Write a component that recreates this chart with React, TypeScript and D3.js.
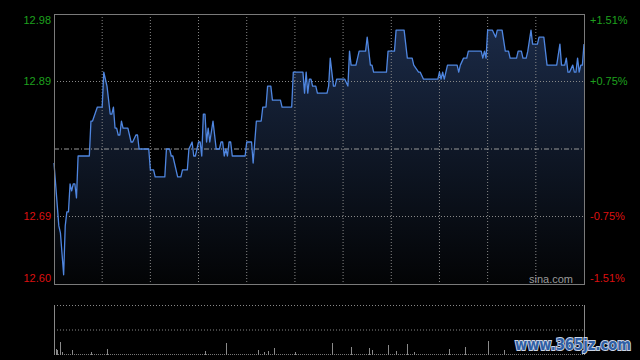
import React from "react";
import * as d3 from "d3";

const prevClose = 12.79;
const pctTicks = [1.51, 0.75, -0.75, -1.51];
const pctLabels = ["+1.51%", "+0.75%", "-0.75%", "-1.51%"];
const sessionMinutes = 330;
const timeGrid = [30, 60, 90, 120, 150, 180, 210, 240, 270, 300];

const times = [
  0, 2, 3, 4, 6, 7, 8, 9, 10, 11, 12, 13, 14, 15, 22, 23, 24, 27, 30, 31, 33, 34, 35, 36, 37, 38, 39, 40, 41, 42, 43, 46, 48, 49, 51, 52, 53, 59, 60, 62, 63, 69, 70, 72, 73, 74, 77, 79, 80, 83, 84,
  86, 87, 88, 90, 91, 92, 93, 94, 95, 96, 97, 99, 101, 103, 104, 105, 106, 107, 108, 109, 110, 111, 119, 120, 123, 124, 126, 129, 130, 132, 133, 135, 136, 141, 142, 148, 149, 155, 156, 157, 158, 159, 160, 161, 163, 164, 166,
  170, 171, 172, 173, 174, 175, 176, 181, 183, 184, 185, 188, 190, 194, 195, 197, 198, 199, 207, 208, 212, 213, 218, 220, 223, 224, 227, 228, 230, 239, 240, 241, 242, 243, 245, 247,
  251, 252, 253, 255, 257, 258, 266, 267, 268, 269, 270, 273, 275, 276, 279, 281, 283, 284, 288, 289, 291, 292, 294, 295, 297, 298, 299, 301, 302, 305, 307, 313, 315, 316, 318, 319, 320, 321, 323, 324, 325, 326, 327, 328, 329, 330,
];
const prices = [
  12.77, 12.71, 12.68, 12.67, 12.61, 12.68, 12.70, 12.70, 12.74, 12.73, 12.74, 12.74, 12.72, 12.78, 12.78, 12.83, 12.83, 12.85, 12.85, 12.90, 12.88, 12.86, 12.84, 12.84, 12.85, 12.82, 12.82, 12.81, 12.81, 12.83, 12.82, 12.82, 12.80, 12.80, 12.81, 12.81, 12.79, 12.79, 12.76, 12.76, 12.75, 12.75, 12.79, 12.79, 12.78, 12.78, 12.75, 12.75, 12.76, 12.76, 12.79,
  12.80, 12.78, 12.78, 12.80, 12.80, 12.78, 12.84, 12.84, 12.80, 12.82, 12.80, 12.83, 12.79, 12.79, 12.80, 12.80, 12.78, 12.79, 12.78, 12.80, 12.80, 12.78, 12.78, 12.80, 12.80, 12.77, 12.83, 12.83, 12.85, 12.85, 12.88, 12.88, 12.86, 12.86, 12.85, 12.85, 12.90, 12.90, 12.87, 12.90, 12.87, 12.89, 12.89, 12.88, 12.88, 12.87, 12.87,
  12.87, 12.88, 12.92, 12.90, 12.88, 12.88, 12.89, 12.89, 12.88, 12.93, 12.91, 12.91, 12.93, 12.93, 12.95, 12.91, 12.91, 12.90, 12.90, 12.93, 12.93, 12.96, 12.96, 12.92, 12.92, 12.91, 12.90, 12.90, 12.89, 12.89, 12.90, 12.89, 12.90, 12.89, 12.91, 12.91,
  12.91, 12.90, 12.91, 12.92, 12.92, 12.93, 12.93, 12.92, 12.93, 12.92, 12.96, 12.96, 12.95, 12.96, 12.96, 12.93, 12.93, 12.92, 12.92, 12.93, 12.93, 12.92, 12.92, 12.93, 12.96, 12.94, 12.94, 12.94, 12.95, 12.95, 12.91, 12.91, 12.94, 12.91, 12.91, 12.92, 12.90, 12.90, 12.91, 12.90, 12.90, 12.92, 12.90, 12.91, 12.91, 12.94,
];

const volTimes = [1, 2, 4, 5, 11, 23, 33, 94, 107, 127, 131, 133, 137, 150, 173, 185, 196, 198, 208, 213, 220, 224, 246, 256, 270, 280];
const volumes = [6, 5, 13, 3, 5, 3, 6, 4, 12, 5, 3, 4, 7, 3, 12, 8, 7, 5, 10, 4, 11, 3, 6, 8, 14, 5];
const volMax = 50;

const L = 54, R = 584, T = 14, B = 284;
const VT = 305, VB = 355;

export default function App() {
  const x = d3.scaleLinear().domain([0, sessionMinutes]).range([L, R]);
  const y = d3
    .scaleLinear()
    .domain([prevClose * (1 - 0.0151), prevClose * (1 + 0.0151)])
    .range([B, T]);
  const yPct = d3.scaleLinear().domain([-1.51, 1.51]).range([B, T]);
  const yv = d3.scaleLinear().domain([0, volMax]).range([VB, VT]);

  const pts = times.map((t, i) => [t, prices[i]] as [number, number]);
  const line = d3
    .line<[number, number]>()
    .x((d) => x(d[0]))
    .y((d) => y(d[1]));
  const area = d3
    .area<[number, number]>()
    .x((d) => x(d[0]))
    .y0(B)
    .y1((d) => y(d[1]));

  const gridPct = [1.51 / 2, -1.51 / 2];
  const labelY = (i: number) => {
    const yy = yPct(i === 0 ? 1.51 : i === 1 ? 1.51 / 2 : i === 2 ? -1.51 / 2 : -1.51);
    if (i === 0) return yy + 6;
    if (i === 3) return yy - 6;
    return yy;
  };
  const font = "'Liberation Sans', Arial, sans-serif";

  return (
    <svg
      width={640}
      height={360}
      style={{ position: "fixed", left: 0, top: 0, background: "#000" }}
    >
      <defs>
        <linearGradient id="fillg" x1="0" y1="0" x2="0" y2="1" gradientUnits="objectBoundingBox">
          <stop offset="0" stopColor="#1a2945" />
          <stop offset="1" stopColor="#030405" />
        </linearGradient>
      </defs>
      <rect x={0} y={0} width={640} height={360} fill="#000" />
      <path d={area(pts) || ""} fill="url(#fillg)" />
      {timeGrid.map((t) => (
        <line key={"vg" + t} x1={x(t)} x2={x(t)} y1={T} y2={B} stroke="#888" strokeWidth={1} strokeDasharray="1,2" />
      ))}
      {gridPct.map((p) => (
        <line key={"hg" + p} x1={L} x2={R} y1={yPct(p)} y2={yPct(p)} stroke="#888" strokeWidth={1} strokeDasharray="1,2" />
      ))}
      <line x1={L} x2={R} y1={yPct(0)} y2={yPct(0)} stroke="#999" strokeWidth={1} strokeDasharray="5,2,1,2" />
      <path d={line(pts) || ""} fill="none" stroke="#4f86e0" strokeWidth={1.3} strokeLinejoin="round" />
      <rect x={L + 0.5} y={T + 0.5} width={R - L} height={B - T} fill="none" stroke="#7a7a7a" strokeWidth={1} />
      {pctTicks.map((p, i) => (
        <text
          key={"ll" + i}
          x={51}
          y={labelY(i)}
          dy="0.35em"
          textAnchor="end"
          fontFamily={font}
          fontSize={11}
          fill={p > 0 ? "#1ea01e" : "#dd1010"}
        >
          {(prevClose * (1 + p / 100)).toFixed(2)}
        </text>
      ))}
      {pctLabels.map((s, i) => (
        <text
          key={"rl" + i}
          x={590}
          y={labelY(i)}
          dy="0.35em"
          textAnchor="start"
          fontFamily={font}
          fontSize={11}
          fill={pctTicks[i] > 0 ? "#1ea01e" : "#dd1010"}
        >
          {s}
        </text>
      ))}
      <text x={573} y={279} dy="0.35em" textAnchor="end" fontFamily={font} fontSize={11} fill="#9a9a9a">
        sina.com
      </text>

      {/* volume panel */}
      <line x1={L} x2={R} y1={VT + 0.5} y2={VT + 0.5} stroke="#888" strokeDasharray="1,2" />
      <line x1={L} x2={R} y1={(VT + VB) / 2} y2={(VT + VB) / 2} stroke="#888" strokeDasharray="1,2" />
      <line x1={L} x2={R} y1={VB - 0.5} y2={VB - 0.5} stroke="#777" strokeDasharray="1,1" />
      <line x1={L + 0.5} x2={L + 0.5} y1={VT} y2={VB} stroke="#888" />
      <line x1={R + 0.5} x2={R + 0.5} y1={VT} y2={VB} stroke="#888" />
      {volTimes.map((t, i) => (
        <line
          key={"v" + i}
          x1={Math.round(x(t)) + 0.5}
          x2={Math.round(x(t)) + 0.5}
          y1={VB}
          y2={yv(volumes[i])}
          stroke="#8a8a8a"
          strokeWidth={1}
        />
      ))}
      <text
        x={515}
        y={350}
        fontFamily="'DejaVu Sans', sans-serif"
        fontWeight="bold"
        fontSize={15}
        textLength={116}
        lengthAdjust="spacingAndGlyphs"
        fill="#2f5fa5"
        stroke="#c9d3e4"
        strokeWidth={2}
        paintOrder="stroke"
      >
        www.365jz.com
      </text>
    </svg>
  );
}
